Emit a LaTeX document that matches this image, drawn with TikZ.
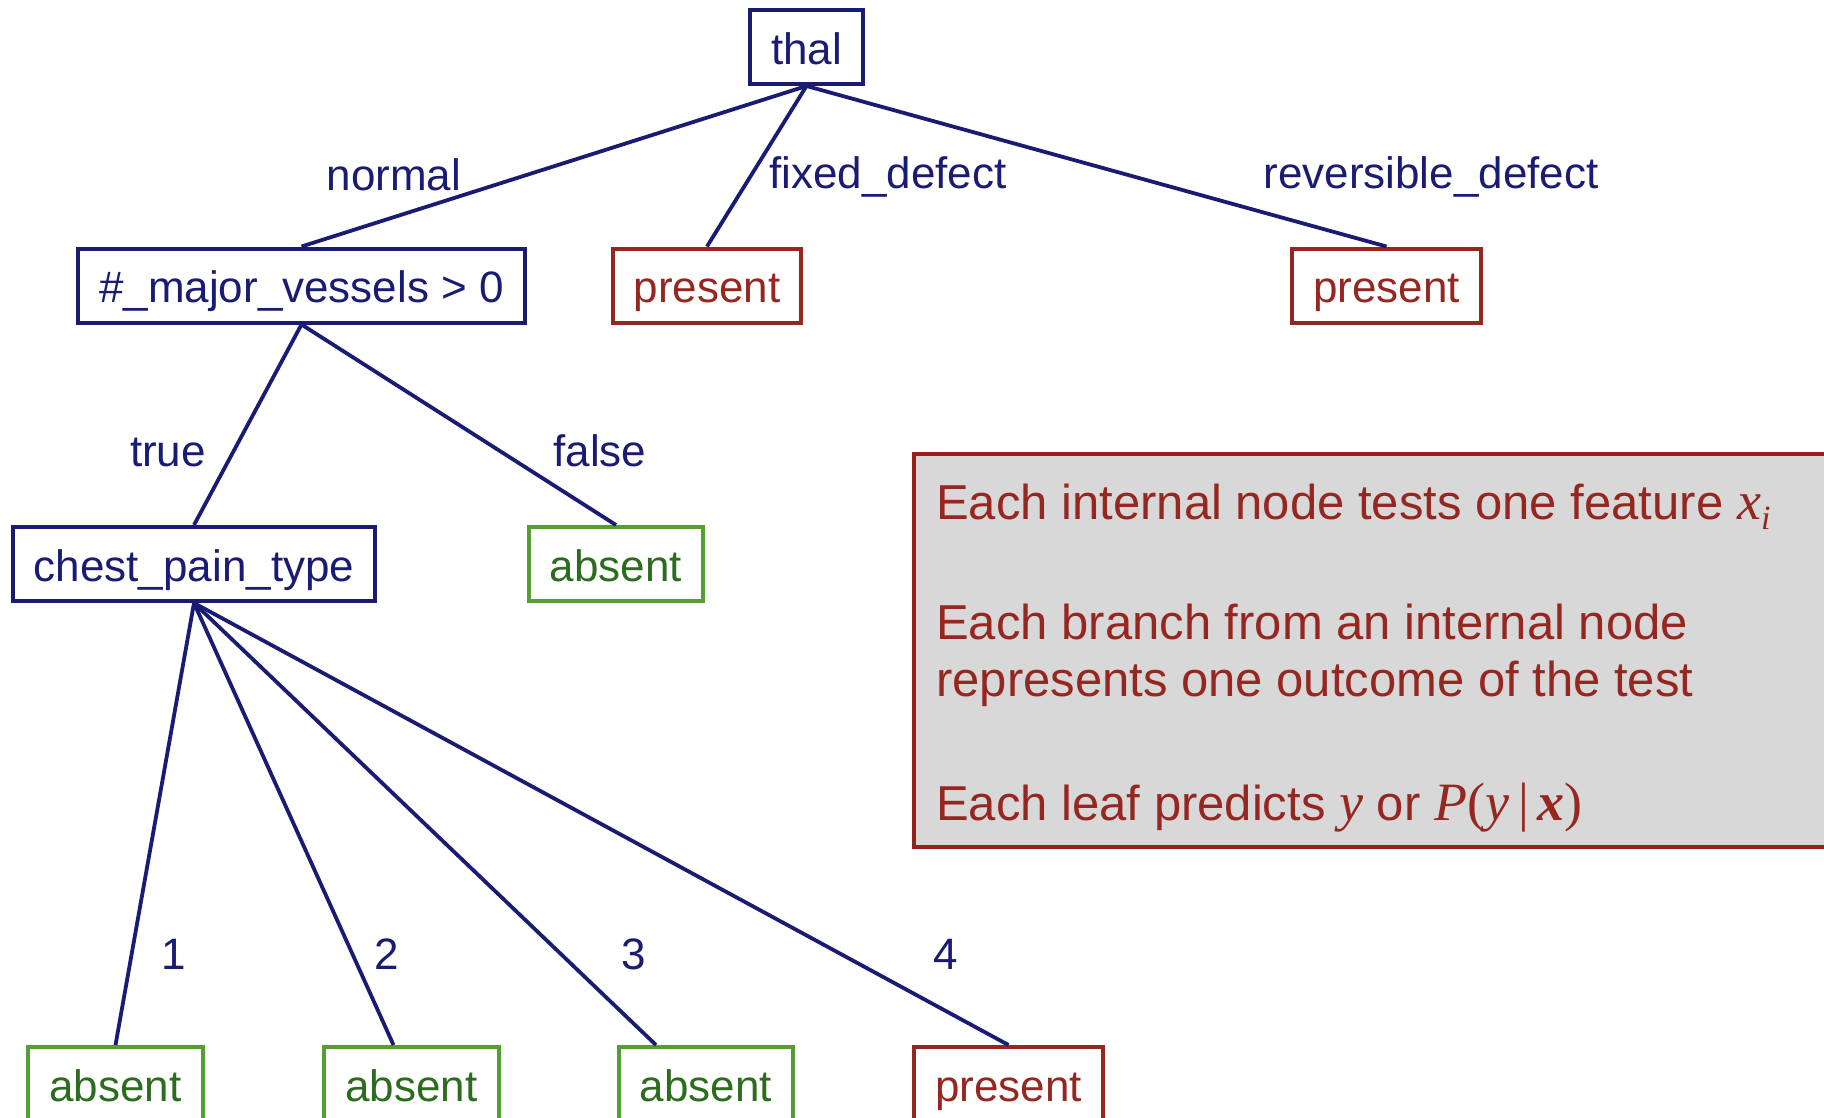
\documentclass[tikz,border=0pt]{standalone}
\usepackage{fontspec}
\setmainfont{Liberation Sans}
\newfontfamily\mathserif{Liberation Serif}

\definecolor{navy}{RGB}{26,28,115}
\definecolor{dred}{RGB}{150,38,32}
\definecolor{lgreen}{RGB}{84,158,52}
\definecolor{dgreen}{RGB}{44,108,30}
\definecolor{legborder}{RGB}{150,32,26}
\definecolor{legfill}{RGB}{216,216,216}

\begin{document}
\begin{tikzpicture}[x=1pt,y=-1pt,
  treefont/.style={font=\fontsize{44}{52}\selectfont},
  box/.style={draw, rectangle, line width=4pt, minimum height=74pt,
    inner xsep=21pt, text height=34pt, text depth=0pt, fill=white, treefont},
  testbox/.style={box, draw=navy, text=navy},
  presentbox/.style={box, draw=dred, text=dred},
  absentbox/.style={box, draw=lgreen, text=dgreen},
  branch/.style={draw=navy, line width=3.8pt},
  elabel/.style={text=navy, treefont, anchor=base, inner sep=0pt},
  legtext/.style={text=dred, font=\fontsize{49}{58}\selectfont, anchor=base west, inner sep=0pt},
  mathsize/.style={}]
\useasboundingbox (0,0) rectangle (1824,1117);

% explanation panel
\path[draw=legborder, fill=legfill, line width=4pt] (914,454) rectangle (1860,847);
\node[legtext] (leg1) at (936,519) {Each internal node tests one feature {\fontsize{54}{58}\selectfont\mathserif\itshape x}\raisebox{-10pt}{\fontsize{34}{34}\selectfont\mathserif\itshape i}};
\node[legtext] (leg2) at (936,639) {Each branch from an internal node};
\node[legtext] (leg3) at (936,696) {represents one outcome of the test};
\node[legtext] (leg4) at (936,820) {Each leaf predicts {\fontsize{54}{58}\selectfont\mathserif\itshape y} or {\fontsize{54}{58}\selectfont\mathserif{\itshape P}({\itshape y}\,|\,{\bfseries\itshape x})}};

% tree nodes
\node[testbox] (thal) at (806.5,47) {thal};
\node[testbox] (mv) at (301.5,285.5) {\#\_major\_vessels > 0};
\node[presentbox] (p1) at (707,285.5) {present};
\node[presentbox] (p2) at (1386.5,285.5) {present};
\node[testbox] (cpt) at (194,564) {chest\_pain\_type};
\node[absentbox] (af) at (616,564) {absent};
\node[absentbox, anchor=north] (a1) at (115.5,1045) {absent};
\node[absentbox, anchor=north] (a2) at (411.5,1045) {absent};
\node[absentbox, anchor=north] (a3) at (706,1045) {absent};
\node[presentbox, anchor=north] (p3) at (1008.5,1045) {present};

% branches
\draw[branch] (thal.south) -- (mv.north);
\draw[branch] (thal.south) -- (p1.north);
\draw[branch] (thal.south) -- (p2.north);
\draw[branch] (mv.south) -- (cpt.north);
\draw[branch] (mv.south) -- (af.north);
\draw[branch] (cpt.south) -- (a1.north);
\draw[branch] (cpt.south) -- ([xshift=-18pt]a2.north);
\draw[branch] (cpt.south) -- ([xshift=-50pt]a3.north);
\draw[branch] (cpt.south) -- (p3.north);

% branch labels
\node[elabel] (lnormal) at (394,190) {normal};
\node[elabel] (lfixed) at (888,188) {fixed\_defect};
\node[elabel] (lrev) at (1431,188) {reversible\_defect};
\node[elabel] (ltrue) at (168,466) {true};
\node[elabel] (lfalse) at (600,466) {false};
\node[elabel] (l1) at (174,969) {1};
\node[elabel] (l2) at (387,969) {2};
\node[elabel] (l3) at (634,969) {3};
\node[elabel] (l4) at (946,969) {4};
\end{tikzpicture}
\end{document}
